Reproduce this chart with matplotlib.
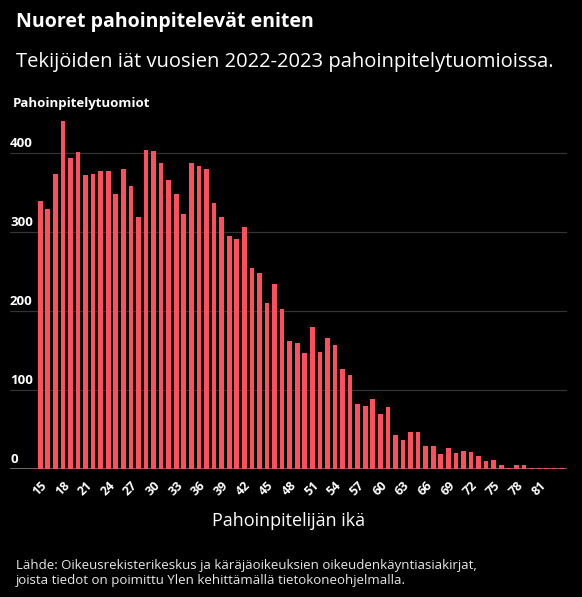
import matplotlib
matplotlib.use("Agg")
import matplotlib.pyplot as plt
import matplotlib.transforms as mtransforms
import numpy as np

plt.rcParams['font.family'] = ['Open Sans', 'DejaVu Sans']

# Tekijöiden iät ja tuomioiden määrät
iat = list(range(15, 85))
tuomiot = [340, 329, 374, 441, 394, 402, 373, 374, 378, 377,
           348, 380, 358, 319, 404, 403, 388, 366, 348, 323,
           388, 384, 380, 337, 319, 295, 292, 307, 255, 248,
           210, 235, 203, 163, 160, 147, 180, 148, 166, 157,
           127, 119, 83, 80, 89, 70, 79, 44, 37, 47,
           47, 30, 29, 19, 27, 21, 23, 22, 17, 10,
           12, 5, 2, 6, 6, 2, 2, 2, 2, 2]
x_tikit = list(range(15, 82, 3))
y_tikit = [0, 100, 200, 300, 400]

fig = plt.figure(figsize=(5.82, 5.97), dpi=100, facecolor="black")
ax = fig.add_axes([0.0172, 0.2139, 0.957, 0.5955])
ax.set_facecolor("black")

ax.bar(iat, tuomiot, width=0.62, color="#ff4f5e", zorder=3)

ax.set_xlim(11.0, 84.7)
ax.set_ylim(0, 450)

# ruudukko ja tekstit y-akselille
for v in y_tikit[1:]:
    ax.axhline(v, color="#333333", linewidth=0.9, zorder=1)
ax.axhline(0, color="#666666", linewidth=2.2, zorder=2)
trans = mtransforms.blended_transform_factory(ax.transAxes, ax.transData)
for v in y_tikit:
    ax.text(0.0, v + 4, str(v), transform=trans, color="white", fontsize=9.5,
            fontweight="bold", ha="left", va="bottom")

ax.set_yticks([])
ax.set_xticks(x_tikit)
ax.set_xticklabels([str(t) for t in x_tikit], rotation=45, ha="right",
                   rotation_mode="anchor", color="white", fontsize=9,
                   fontweight="bold")
ax.tick_params(axis="x", length=0, pad=7)
for s in ax.spines.values():
    s.set_visible(False)

ax.set_xlabel("Pahoinpitelijän ikä", color="white", fontsize=13, labelpad=10)

fig.text(0.027, 0.963, "Nuoret pahoinpitelevät eniten", color="white",
         fontsize=14, fontweight="bold", va="center", ha="left")
fig.text(0.027, 0.896, "Tekijöiden iät vuosien 2022-2023 pahoinpitelytuomioissa.",
         color="white", fontsize=14.5, va="center", ha="left")
fig.text(0.022, 0.826, "Pahoinpitelytuomiot", color="white", fontsize=9.5,
         fontweight="bold", va="center", ha="left")
fig.text(0.027, 0.040,
         "Lähde: Oikeusrekisterikeskus ja käräjäoikeuksien oikeudenkäyntiasiakirjat,\n"
         "joista tiedot on poimittu Ylen kehittämällä tietokoneohjelmalla.",
         color="#e8e8e8", fontsize=9.5, va="center", ha="left", linespacing=1.2)

fig.savefig("out.png", dpi=100, facecolor="black")
